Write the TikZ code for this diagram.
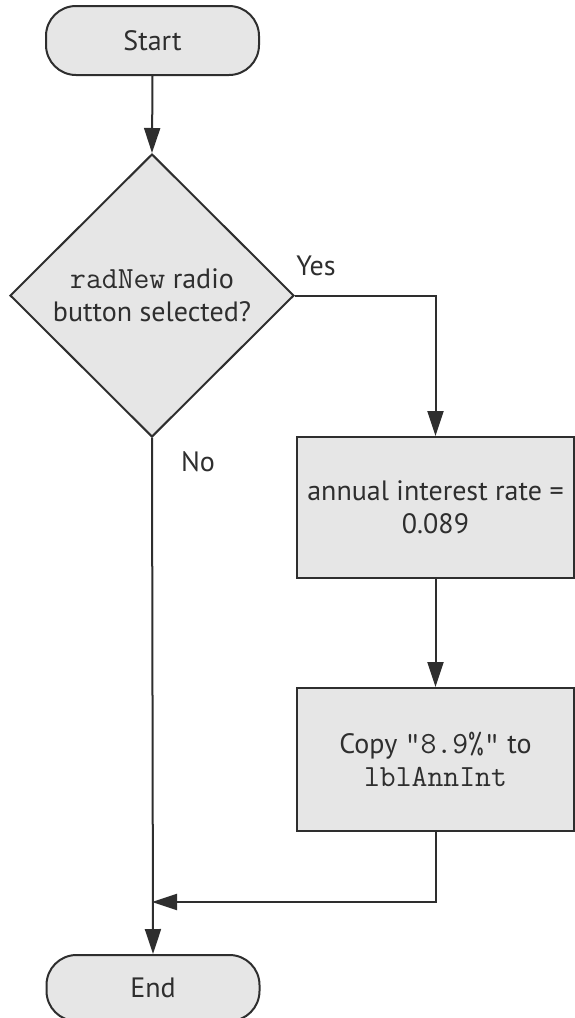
\documentclass[tikz,border=0pt]{standalone}
\usepackage{fontspec}
\setmainfont{PT Sans}
\setmonofont{Latin Modern Mono}[Scale=1.1]
\usetikzlibrary{shapes.geometric,arrows.meta}
\definecolor{boxfill}{HTML}{E6E6E6}
\definecolor{ink}{HTML}{2E2E2E}
\begin{document}
\begin{tikzpicture}[x=1pt,y=-1pt,
  every node/.style={text=ink,font=\fontsize{28}{33}\selectfont},
  terminal/.style={draw=ink,fill=boxfill,line width=2pt,rounded corners=30pt,minimum width=213pt,minimum height=69pt,inner sep=0pt},
  decision/.style={diamond,draw=ink,fill=boxfill,line width=2pt,minimum width=284pt,minimum height=283pt,inner sep=0pt,align=center},
  process/.style={draw=ink,fill=boxfill,line width=2pt,minimum width=277pt,minimum height=141pt,inner sep=0pt,align=center},
  flow/.style={draw=ink,line width=2pt,-{Triangle[length=25pt,width=16pt]}},
  lbl/.style={inner sep=0pt}]
\useasboundingbox (0,0) rectangle (574,1018);
\node[terminal] (start) at (152.5,40.5) {Start};
\node[decision] (dec) at (152,295.5) {\texttt{radNew} radio\\button selected?};
\node[process] (box1) at (435.5,507.5) {annual interest rate =\\0.089};
\node[process,minimum height=143pt] (box2) at (435.5,759.5) {Copy \texttt{"8.9\%"} to\\\texttt{lblAnnInt}};
\node[terminal,minimum height=66pt] (end) at (153,988) {End};
\coordinate (merge) at (152,902);
\node[lbl] (yes) at (316,266) {Yes};
\node[lbl] (no) at (198,462) {No};
\draw[flow] (start.south) -- (dec.north);
\draw[flow] (dec.east) -| (box1.north);
\draw[flow] (box1.south) -- (box2.north);
\draw[flow] (box2.south) |- (merge);
\draw[flow] (dec.south) -- (end.north);
\end{tikzpicture}
\end{document}
